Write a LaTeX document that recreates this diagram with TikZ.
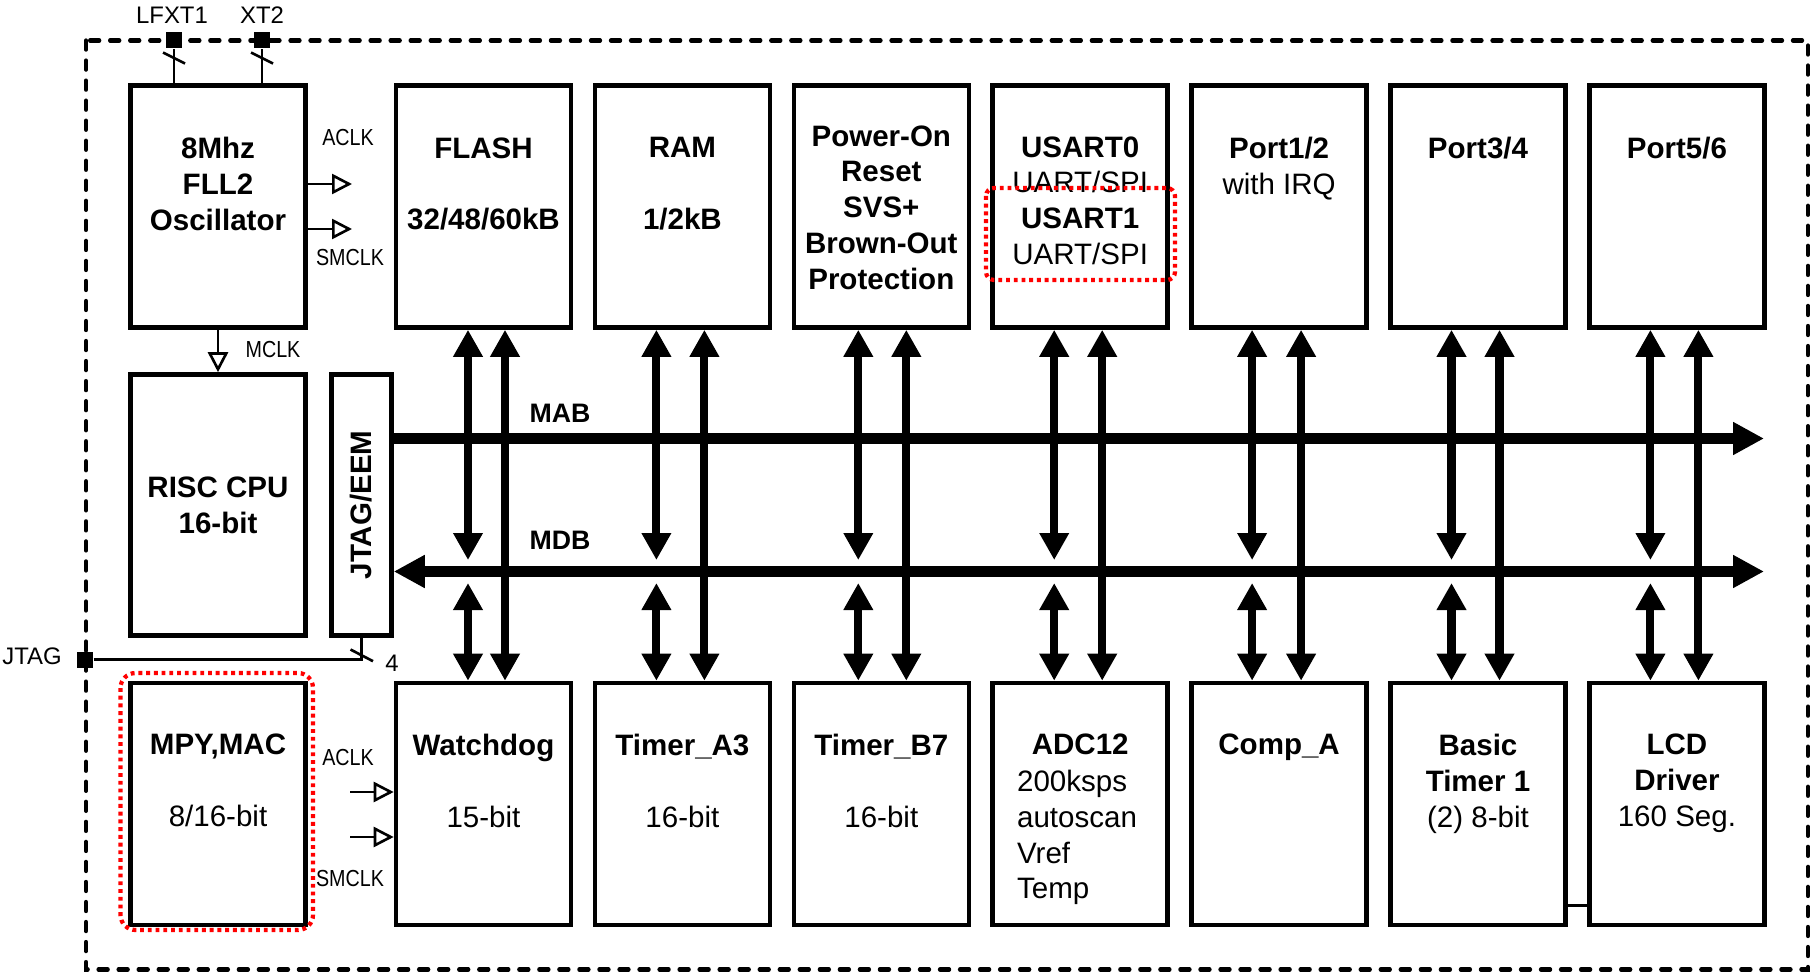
\documentclass[tikz,border=0pt]{standalone}
\usepackage{fontspec}
\setmainfont{Liberation Sans}
\newfontfamily\narrowfont[FakeStretch=0.85]{Liberation Sans}
\usepackage{tikz}
\usetikzlibrary{arrows.meta}

\tikzset{
  blk/.style={draw, line width=1.3pt, minimum width=1.75cm, minimum height=2.42cm, inner sep=0pt,
    align=center, font=\fontsize{8.4}{10.2}\selectfont\bfseries},
  txt/.style={anchor=north, align=center, inner sep=0pt, font=\fontsize{8.4}{10.2}\selectfont},
  btxt/.style={txt, font=\fontsize{8.4}{10.2}\selectfont\bfseries},
  clk/.style={inner sep=0pt, font=\narrowfont\fontsize{6.6}{8}\selectfont},
  pinlbl/.style={inner sep=0pt, font=\fontsize{6.8}{8}\selectfont},
  buslbl/.style={inner sep=0pt, font=\fontsize{7.6}{9}\selectfont\bfseries},
  pinsq/.style={fill, minimum size=1.6mm, inner sep=0pt},
  wire/.style={line width=0.75pt},
  clkarr/.style={wire, -{Triangle[open, length=2mm, width=2mm]}},
  bus/.style={line width=3pt, -{Triangle[length=3.1mm, width=3.1mm]}},
  dbus/.style={line width=3pt, {Triangle[length=3.1mm, width=3.1mm]}-{Triangle[length=3.1mm, width=3.1mm]}},
  vbus/.style={line width=2.3pt, {Triangle[length=2.7mm, width=2.8mm]}-{Triangle[length=2.7mm, width=2.8mm]}},
  chipframe/.style={line width=1.2pt, dash pattern=on 2.6pt off 3.1pt, line cap=round},
  hilite/.style={red, line width=1.2pt, dash pattern=on 1.1pt off 1.1pt}
}

\begin{document}
\begin{tikzpicture}
  \useasboundingbox (0,0) rectangle (18.13,9.75);

  \draw[chipframe] (0.86,9.345) rectangle (18.08,0.055);

  \node[blk] (osc) at (2.18,7.685) {};
  \foreach \n [count=\i from 0] in {flash,ram,por,usart,port12,port34,port56}
    \node[blk] (\n) at (4.835+1.989*\i,7.685) {};
  \node[blk, minimum height=2.61cm] (cpu) at (2.18,4.70) {RISC CPU\\16-bit};
  \node[blk, minimum width=0.6cm, minimum height=2.61cm] (jtag) at (3.615,4.70) {};
  \node[btxt, anchor=center, rotate=90] (jtagT) at (jtag) {JTAG/EEM};
  \node[blk] (mpy) at (2.18,1.71) {};
  \foreach \n [count=\i from 0] in {wdt,tima,timb,adc,comp,bt,lcd}
    \node[blk] (\n) at (4.835+1.989*\i,1.71) {};

  \node[btxt] (oscT) at ([yshift=-5.35mm]osc.north) {8Mhz\\FLL2\\Oscillator};
  \node[btxt] (flashT) at ([yshift=-5.35mm]flash.north) {FLASH\\[10.2pt]32/48/60kB};
  \node[btxt] (ramT) at ([yshift=-5.35mm]ram.north) {RAM\\[10.2pt]1/2kB};
  \node[btxt] (porT) at ([yshift=-4.15mm]por.north) {Power-On\\Reset\\SVS+\\Brown-Out\\Protection};
  \node[txt] (usartT) at ([yshift=-5.25mm]usart.north) {\textbf{USART0}\\UART/SPI\\\textbf{USART1}\\UART/SPI};
  \node[txt] (port12T) at ([yshift=-5.35mm]port12.north) {\textbf{Port1/2}\\with IRQ};
  \node[btxt] (port34T) at ([yshift=-5.35mm]port34.north) {Port3/4};
  \node[btxt] (port56T) at ([yshift=-5.35mm]port56.north) {Port5/6};

  \node[txt] (mpyT) at ([yshift=-5.25mm]mpy.north) {\textbf{MPY,MAC}\\[10.2pt]8/16-bit};
  \node[txt] (wdtT) at ([yshift=-5.25mm]wdt.north) {\textbf{Watchdog}\\[10.2pt]15-bit};
  \node[txt] (timaT) at ([yshift=-5.25mm]tima.north) {\textbf{Timer\_A3}\\[10.2pt]16-bit};
  \node[txt] (timbT) at ([yshift=-5.25mm]timb.north) {\textbf{Timer\_B7}\\[10.2pt]16-bit};
  \node[btxt] (adcT) at ([yshift=-5.25mm]adc.north) {ADC12};
  \node[txt, anchor=north west, align=left] (adcL) at ([xshift=2.6mm,yshift=-8.85mm]adc.north west) {200ksps\\autoscan\\Vref\\Temp};
  \node[btxt] (compT) at ([yshift=-5.25mm]comp.north) {Comp\_A};
  \node[txt] (btT) at ([yshift=-5.25mm]bt.north) {\textbf{Basic}\\\textbf{Timer 1}\\(2) 8-bit};
  \node[txt] (lcdT) at ([yshift=-5.25mm]lcd.north) {\textbf{LCD}\\\textbf{Driver}\\160 Seg.};

  \coordinate (mabE) at (17.64,5.365);
  \coordinate (mdbE) at (17.64,4.035);
  \draw[bus] (jtag.east |- mabE) -- (mabE);
  \draw[dbus] (jtag.east |- mdbE) -- (mdbE);
  \node[buslbl] (mab) at (5.60,5.62) {MAB};
  \node[buslbl] (mdb) at (5.60,4.35) {MDB};

  \coordinate (mdbT) at (0,4.15);
  \coordinate (mdbB) at (0,3.92);
  \foreach \t/\b/\l/\r in {flash/wdt/-0.155/0.215, ram/tima/-0.26/0.22, por/timb/-0.23/0.25,
      usart/adc/-0.26/0.22, port12/comp/-0.27/0.22, port34/bt/-0.265/0.215, port56/lcd/-0.265/0.215}{
    \draw[vbus] ([xshift=\l cm]\t.south) -- ([xshift=\l cm]\t.south |- mdbT);
    \draw[vbus] ([xshift=\l cm]\b.north |- mdbB) -- ([xshift=\l cm]\b.north);
    \draw[vbus] ([xshift=\r cm]\t.south) -- ([xshift=\r cm]\b.north);
  }

  \coordinate (aclkT) at (3.52,7.91);
  \coordinate (smclkT) at (3.52,7.46);
  \draw[clkarr] (osc.east |- aclkT) -- (aclkT);
  \draw[clkarr] (osc.east |- smclkT) -- (smclkT);
  \node[clk] (aclkTl) at (3.48,8.37) {ACLK};
  \node[clk] (smclkTl) at (3.50,7.17) {SMCLK};
  \draw[clkarr] (osc.south) -- (cpu.north);
  \node[clk] (mclk) at (2.73,6.25) {MCLK};
  \coordinate (aclkB) at (3.50,1.83);
  \coordinate (smclkB) at (3.50,1.38);
  \draw[clkarr] (aclkB) -- (wdt.west |- aclkB);
  \draw[clkarr] (smclkB) -- (wdt.west |- smclkB);
  \node[clk] (aclkBl) at (3.48,2.17) {ACLK};
  \node[clk] (smclkBl) at (3.50,0.96) {SMCLK};

  \node[pinsq] (lfxt) at (1.74,9.345) {};
  \node[pinsq] (xt2) at (2.62,9.345) {};
  \draw[wire] (lfxt) -- (lfxt |- osc.north);
  \draw[wire] (xt2) -- (xt2 |- osc.north);
  \draw[wire] ([shift={(-0.11,-0.12)}]lfxt.center) -- ++(0.22,-0.11);
  \draw[wire] ([shift={(-0.11,-0.12)}]xt2.center) -- ++(0.22,-0.11);
  \node[pinlbl] (lfxtL) at (1.72,9.60) {LFXT1};
  \node[pinlbl] (xt2L) at (2.62,9.60) {XT2};

  \node[pinsq] (jtagp) at (0.85,3.155) {};
  \node[pinlbl] (jtagL) at (0.32,3.19) {JTAG};
  \draw[wire] (jtagp) -| (jtag.south);
  \draw[wire] ([shift={(-0.11,0.10)}]jtag.south |- jtagp) -- ++(0.225,-0.117);
  \node[pinlbl] (four) at (3.92,3.12) {4};

  \draw[wire] ([yshift=2.2mm]bt.south east) -- ([yshift=2.2mm]lcd.south west);

  \draw[hilite, rounded corners=0.8mm] (9.86,7.87) rectangle (11.75,6.95);
  \draw[hilite, rounded corners=1.5mm] (1.205,3.02) rectangle (3.13,0.45);
\end{tikzpicture}
\end{document}
